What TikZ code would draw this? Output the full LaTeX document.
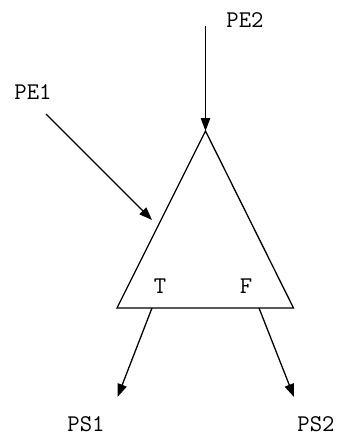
\documentclass[tikz,border=0pt]{standalone}
\usetikzlibrary{arrows.meta}
\begin{document}
\begin{tikzpicture}[x=1pt,y=-1pt,
  lbl/.style={font=\ttfamily\fontsize{24}{24}\selectfont, inner sep=0pt, text height=14.6pt, text depth=0pt},
  conn/.style={line width=1.3pt, -{Triangle[length=13pt,width=9.5pt]}},
  edge/.style={line width=1.3pt}]
\useasboundingbox (0,0) rectangle (339,436);
% triangle
\coordinate (apex) at (205.5,131);
\coordinate (bl) at (117,308);
\coordinate (br) at (293.5,308);
\draw[edge, line join=miter] (apex) -- (bl) -- (br) -- cycle;
% labels
\node[lbl] (pe2) at (245,20) {PE2};
\node[lbl] (pe1) at (33,92) {PE1};
\node[lbl] (t) at (160,286) {T};
\node[lbl] (f) at (246,286) {F};
\node[lbl] (ps1) at (86,424) {PS1};
\node[lbl] (ps2) at (316,424) {PS2};
% connector end points
\coordinate (pe2s) at (205.5,26);
\coordinate (pe1s) at (46,114);
\coordinate (pe1e) at (152,220);
\coordinate (ts) at (152,308);
\coordinate (te) at (117.5,397);
\coordinate (fs) at (259,308);
\coordinate (fe) at (294,397);
\draw[conn] (pe2s) -- (apex);
\draw[conn] (pe1s) -- (pe1e);
\draw[conn] (ts) -- (te);
\draw[conn] (fs) -- (fe);
\end{tikzpicture}
\end{document}
